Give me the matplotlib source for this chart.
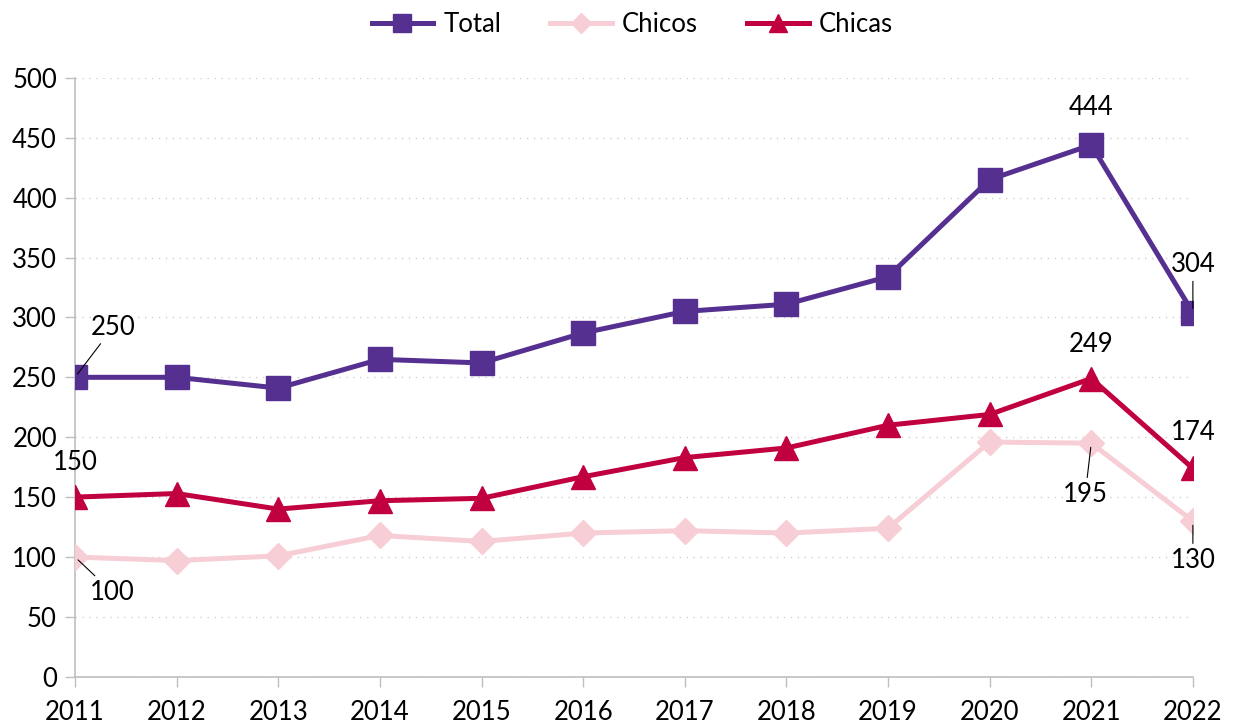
import matplotlib
matplotlib.use("Agg")
import matplotlib.pyplot as plt

plt.rcParams['font.family'] = ['Lato', 'DejaVu Sans']

years = [2011, 2012, 2013, 2014, 2015, 2016, 2017, 2018, 2019, 2020, 2021, 2022]
total = [250, 250, 241, 265, 262, 287, 305, 311, 334, 415, 444, 304]
chicos = [100, 97, 101, 118, 113, 120, 122, 120, 124, 196, 195, 130]
chicas = [150, 153, 140, 147, 149, 167, 183, 191, 210, 219, 249, 174]

c_total = '#553090'
c_chicos = '#F7CED5'
c_chicas = '#C0003F'

fs = 18.5

fig = plt.figure(figsize=(12.4, 7.27), dpi=100)
ax = fig.add_axes([0.0605, 0.069, 0.9015, 0.824])

ax.plot(years, chicos, color=c_chicos, lw=3.6, marker='D', ms=13, label='Chicos', zorder=3)
ax.plot(years, chicas, color=c_chicas, lw=3.6, marker='^', ms=17, label='Chicas', zorder=4)
ax.plot(years, total, color=c_total, lw=3.6, marker='s', ms=17, label='Total', zorder=5)

ax.set_xlim(2011, 2022)
ax.set_ylim(0, 500)
ax.set_xticks(years)
ax.set_yticks(range(0, 501, 50))
ax.tick_params(axis='both', labelsize=fs, color='#BFBFBF', length=7, width=1)
ax.tick_params(axis='x', pad=10)
ax.tick_params(axis='y', pad=6)
ax.grid(axis='y', color='#D0D0D0', ls=(0, (1, 4)), lw=1)
ax.set_axisbelow(True)
for s in ['top', 'right']:
    ax.spines[s].set_visible(False)
for s in ['left', 'bottom']:
    ax.spines[s].set_color('#BFBFBF')
    ax.spines[s].set_linewidth(1.2)

# data labels: (series, index, dx, dy, leader line)
lbls = [
    (total, 0, 38, 50, True),
    (total, 10, 0, 37, False),
    (total, 11, 0, 48, True),
    (chicas, 0, 0, 35, False),
    (chicas, 10, 0, 34, False),
    (chicas, 11, 0, 36, False),
    (chicos, 0, 37, -35, True),
    (chicos, 10, -6, -51, True),
    (chicos, 11, 0, -39, True),
]
for ser, i, dx, dy, line in lbls:
    kw = {}
    if line:
        kw['arrowprops'] = dict(arrowstyle='-', color='black', lw=0.8, shrinkA=1, shrinkB=3)
    ax.annotate(str(ser[i]), (years[i], ser[i]), xytext=(dx, dy), textcoords='offset pixels',
                ha='center', va='center', fontsize=fs, zorder=6, annotation_clip=False, **kw)

h, l = ax.get_legend_handles_labels()
order = [2, 0, 1]
fig.legend([h[k] for k in order], [l[k] for k in order], loc='center', bbox_to_anchor=(0.51, 0.966),
           ncol=3, frameon=False, fontsize=fs, handlelength=2.4, handletextpad=0.4,
           columnspacing=1.9, markerscale=0.75)

fig.savefig('out.png', dpi=100)
